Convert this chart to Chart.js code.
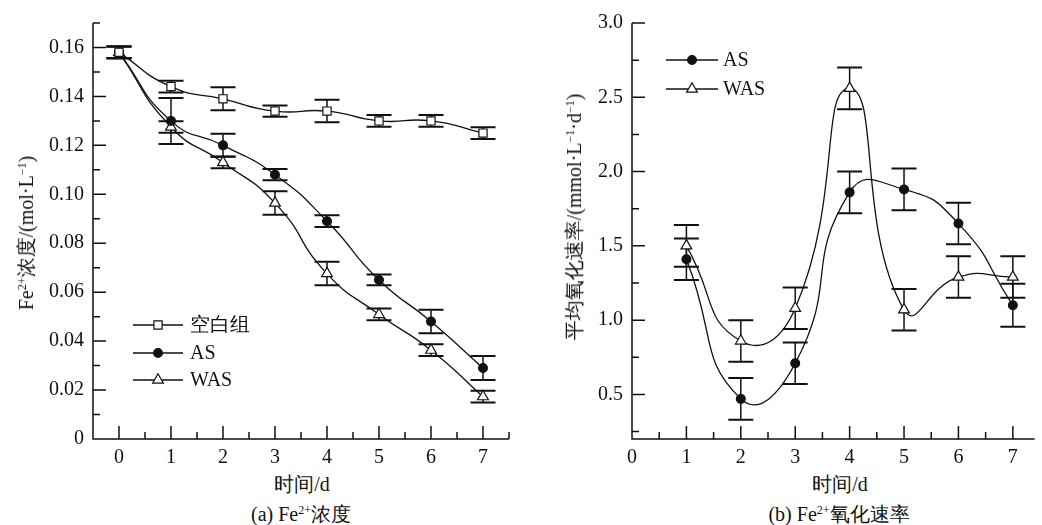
<!DOCTYPE html>
<html>
<head>
<meta charset="utf-8">
<script src="https://cdn.jsdelivr.net/npm/chart.js@4.4.0/dist/chart.umd.min.js"></script>
<style>
body { margin: 0; background: #fff; width: 1042px; height: 525px; position: relative; overflow: hidden;
       font-family: "Liberation Serif", serif; color: #111; }
canvas { position: absolute; top: 0; }
.txt { position: absolute; white-space: nowrap; font-size: 20px; line-height: 1; transform: translate(-50%, -50%); }
.rot { transform: translate(-50%, -50%) rotate(-90deg); }
sup { font-size: 0.6em; position: relative; top: -0.55em; vertical-align: baseline; line-height: 0; }
</style>
</head>
<body>
<canvas id="chart-conc" width="520" height="470" style="left:0"></canvas>
<canvas id="chart-rate" width="522" height="470" style="left:520px"></canvas>

<div class="txt rot" style="left:26px; top:233px">Fe<sup>2+</sup>浓度/(mol·L<sup>−1</sup>)</div>
<div class="txt rot" style="left:574px; top:217px">平均氧化速率/(mmol·L<sup>−1</sup>·d<sup>−1</sup>)</div>
<div class="txt" style="left:302px; top:484px">时间/d</div>
<div class="txt" style="left:840px; top:484px">时间/d</div>
<div class="txt" style="left:301px; top:514px">(a) Fe<sup>2+</sup>浓度</div>
<div class="txt" style="left:839px; top:514px">(b) Fe<sup>2+</sup>氧化速率</div>

<script>
/*====================================
data
=========================================*/
const days = [0, 1, 2, 3, 4, 5, 6, 7];
const blankConc = [0.158, 0.144, 0.139, 0.134, 0.134, 0.130, 0.130, 0.125];
const blankErr = [0.0024, 0.0024, 0.0047, 0.0023, 0.0046, 0.0024, 0.0024, 0.0024];
const asConc = [0.158, 0.130, 0.120, 0.108, 0.089, 0.065, 0.048, 0.029];
const asErr = [0.0024, 0.0094, 0.0047, 0.0023, 0.0024, 0.0022, 0.0048, 0.0049];
const wasConc = [0.158, 0.1275, 0.113, 0.0964, 0.0676, 0.0509, 0.0363, 0.0173];
const wasErr = [0.0024, 0.0024, 0.0024, 0.0048, 0.0048, 0.0024, 0.0024, 0.0024];

const rateDays = [1, 2, 3, 4, 5, 6, 7];
const asRate = [1.41, 0.47, 0.71, 1.86, 1.88, 1.65, 1.10];
const asRateErr = [0.14, 0.14, 0.14, 0.14, 0.14, 0.14, 0.145];
const wasRate = [1.50, 0.86, 1.08, 2.56, 1.07, 1.29, 1.29];
const wasRateErr = [0.14, 0.14, 0.14, 0.14, 0.14, 0.14, 0.14];

const xTicksConc = [-0.5, 0, 0.5, 1, 1.5, 2, 2.5, 3, 3.5, 4, 4.5, 5, 5.5, 6, 6.5, 7, 7.5];
const yTicksConc = [0, 0.01, 0.02, 0.03, 0.04, 0.05, 0.06, 0.07, 0.08, 0.09, 0.10, 0.11, 0.12, 0.13, 0.14, 0.15, 0.16, 0.17];
const xTicksRate = [0, 0.5, 1, 1.5, 2, 2.5, 3, 3.5, 4, 4.5, 5, 5.5, 6, 6.5, 7];
const yTicksRate = [0.25, 0.5, 0.75, 1.0, 1.25, 1.5, 1.75, 2.0, 2.25, 2.5, 2.75, 3.0];

const FONT = '"Liberation Serif", serif';
Chart.defaults.font.family = FONT;
Chart.defaults.font.size = 20;
Chart.defaults.color = '#111';

const INK = '#111';

const pts = (xs, ys) => xs.map((x, i) => ({ x: x, y: ys[i] }));

function series(label, xs, ys, errs, style, tension) {
    const filled = style === 'circle';
    return {
        label: label,
        data: pts(xs, ys),
        errors: errs,
        borderColor: INK,
        borderWidth: 1.3,
        tension: tension,
        pointStyle: style,
        pointRadius: style === 'rect' ? 5.8 : (style === 'circle' ? 4.4 : 6.2),
        pointBackgroundColor: filled ? INK : '#fff',
        pointBorderColor: INK,
        pointBorderWidth: 1.2,
        fill: false
    };
}

/*===============
plugins: error bars, inner ticks, legend
====================*/
const errorBars = {
    id: 'errorBars',
    beforeDatasetsDraw(chart) {
        const { ctx, scales: { y } } = chart;
        ctx.save();
        ctx.strokeStyle = INK;
        chart.data.datasets.forEach((ds, i) => {
            const meta = chart.getDatasetMeta(i);
            meta.data.forEach((pt, j) => {
                const v = ds.data[j].y, e = ds.errors[j];
                const top = y.getPixelForValue(v + e), bot = y.getPixelForValue(v - e);
                ctx.lineWidth = 1.5;
                ctx.beginPath();
                ctx.moveTo(pt.x, top); ctx.lineTo(pt.x, bot);
                ctx.stroke();
                ctx.lineWidth = 2;
                ctx.beginPath();
                ctx.moveTo(pt.x - 12.5, top); ctx.lineTo(pt.x + 12.5, top);
                ctx.moveTo(pt.x - 12.5, bot); ctx.lineTo(pt.x + 12.5, bot);
                ctx.stroke();
            });
        });
        ctx.restore();
    }
};

const innerTicks = {
    id: 'innerTicks',
    afterDraw(chart, args, opts) {
        const { ctx, chartArea: a, scales: { x, y } } = chart;
        ctx.save();
        ctx.strokeStyle = INK;
        ctx.lineWidth = 1.5;
        ctx.beginPath();
        ctx.moveTo(a.left, a.top); ctx.lineTo(a.left, a.bottom); ctx.lineTo(a.right, a.bottom);
        x.ticks.forEach(t => {
            const px = x.getPixelForValue(t.value);
            const len = opts.xMajor(t.value) ? 13 : 7;
            ctx.moveTo(px, a.bottom); ctx.lineTo(px, a.bottom - len);
        });
        y.ticks.forEach(t => {
            const py = y.getPixelForValue(t.value);
            const len = opts.yMajor(t.value) ? 13 : 7;
            ctx.moveTo(a.left, py); ctx.lineTo(a.left + len, py);
        });
        ctx.stroke();
        ctx.restore();
    }
};

const boxLegend = {
    id: 'boxLegend',
    afterDraw(chart, args, opts) {
        const { ctx } = chart;
        ctx.save();
        chart.data.datasets.forEach((ds, i) => {
            const yy = opts.rows[i];
            ctx.strokeStyle = INK;
            ctx.lineWidth = 1.3;
            ctx.beginPath();
            ctx.moveTo(opts.x0, yy); ctx.lineTo(opts.x1, yy);
            ctx.stroke();
            ctx.fillStyle = ds.pointBackgroundColor;
            ctx.lineWidth = ds.pointBorderWidth;
            Chart.helpers.drawPoint(ctx, { pointStyle: ds.pointStyle, radius: ds.pointRadius, rotation: 0, borderWidth: ds.pointBorderWidth }, (opts.x0 + opts.x1) / 2, yy);
            ctx.fillStyle = INK;
            ctx.font = '20px ' + FONT;
            ctx.textAlign = 'left';
            ctx.textBaseline = 'middle';
            ctx.fillText(ds.label, opts.tx, yy + 1);
        });
        ctx.restore();
    }
};

const isInt = v => Math.abs(v - Math.round(v)) < 1e-6;

function drawCharts() {
    /*===============
    concentration chart
    ====================*/
    const concCanvas = document.getElementById('chart-conc');
    if (concCanvas) {
        new Chart(concCanvas, {
            type: 'line',
            data: {
                datasets: [
                    series('空白组', days, blankConc, blankErr, 'rect', 0.55),
                    series('AS', days, asConc, asErr, 'circle', 0.55),
                    series('WAS', days, wasConc, wasErr, 'triangle', 0.55)
                ]
            },
            plugins: [errorBars, innerTicks, boxLegend],
            options: {
                responsive: false,
                animation: false,
                layout: { padding: { left: 0, right: 11, top: 23, bottom: 0 } },
                scales: {
                    x: {
                        type: 'linear', min: -0.5, max: 7.5,
                        afterBuildTicks: s => { s.ticks = xTicksConc.map(v => ({ value: v })); },
                        afterFit: s => { s.height = 31; },
                        grid: { display: false, drawTicks: false },
                        border: { display: false },
                        ticks: { autoSkip: false, maxRotation: 0, padding: 7,
                            callback: v => isInt(v) ? String(Math.round(v)) : '' }
                    },
                    y: {
                        min: 0, max: 0.17,
                        afterBuildTicks: s => { s.ticks = yTicksConc.map(v => ({ value: v })); },
                        afterFit: s => { s.width = 93; },
                        grid: { display: false, drawTicks: false },
                        border: { display: false },
                        ticks: { autoSkip: false, padding: 9,
                            callback: v => {
                                const k = Math.round(v * 100);
                                if (k % 2 !== 0) return '';
                                return k === 0 ? '0' : v.toFixed(2);
                            } }
                    }
                },
                plugins: {
                    legend: { display: false },
                    tooltip: { enabled: false },
                    innerTicks: { xMajor: isInt, yMajor: v => Math.round(v * 100) % 2 === 0 },
                    boxLegend: { x0: 133, x1: 183, tx: 190, rows: [325, 353, 380] }
                }
            }
        });
    }

    /*===============
    oxidation rate chart
    ====================*/
    const rateCanvas = document.getElementById('chart-rate');
    if (rateCanvas) {
        new Chart(rateCanvas, {
            type: 'line',
            data: {
                datasets: [
                    series('AS', rateDays, asRate, asRateErr, 'circle', 0.55),
                    series('WAS', rateDays, wasRate, wasRateErr, 'triangle', 0.55)
                ]
            },
            plugins: [errorBars, innerTicks, boxLegend],
            options: {
                responsive: false,
                animation: false,
                layout: { padding: { left: 0, right: 0, top: 23, bottom: 0 } },
                scales: {
                    x: {
                        type: 'linear', min: 0, max: 7.4,
                        afterBuildTicks: s => { s.ticks = xTicksRate.map(v => ({ value: v })); },
                        afterFit: s => { s.height = 31; },
                        grid: { display: false, drawTicks: false },
                        border: { display: false },
                        ticks: { autoSkip: false, maxRotation: 0, padding: 7,
                            callback: v => isInt(v) ? String(Math.round(v)) : '' }
                    },
                    y: {
                        min: 0.2, max: 3.0,
                        afterBuildTicks: s => { s.ticks = yTicksRate.map(v => ({ value: v })); },
                        afterFit: s => { s.width = 112; },
                        grid: { display: false, drawTicks: false },
                        border: { display: false },
                        ticks: { autoSkip: false, padding: 9,
                            callback: v => isInt(v * 2) ? v.toFixed(1) : '' }
                    }
                },
                plugins: {
                    legend: { display: false },
                    tooltip: { enabled: false },
                    innerTicks: { xMajor: isInt, yMajor: v => isInt(v * 2) },
                    boxLegend: { x0: 146, x1: 198, tx: 203, rows: [60, 89] }
                }
            }
        });
    }
}

document.fonts.load('20px "Liberation Serif"').then(drawCharts, drawCharts);
</script>
</body>
</html>
